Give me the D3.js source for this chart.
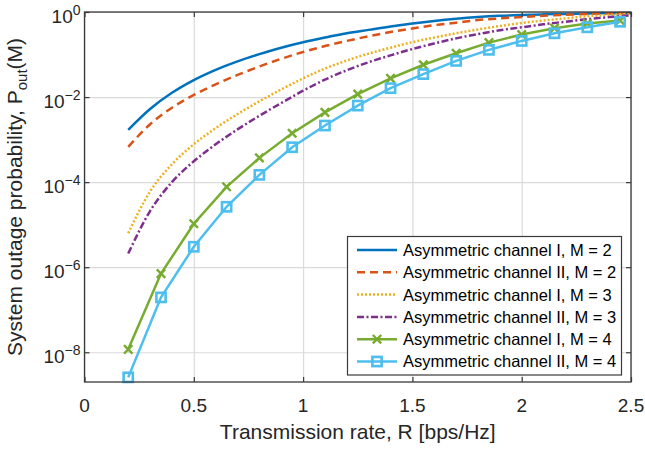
<!DOCTYPE html>
<html><head><meta charset="utf-8">
<script src="https://cdn.jsdelivr.net/npm/d3@7"></script>
<style>
body{margin:0;background:#fff;}
svg{display:block;font-family:"Liberation Sans",Arial,Helvetica,sans-serif;}
</style></head><body>
<svg id="c" width="645" height="452"></svg>
<script>
// ---------- data ----------
const rateCurve = [0.2,0.3,0.4,0.5,0.6,0.7,0.8,0.9,1.0,1.1,1.2,1.3,1.4,1.5,1.6,1.7,1.8,1.9,2.0,2.1,2.2,2.3,2.4,2.5];
const chanI_M2  = [1.70e-3,5.25e-3,1.26e-2,2.51e-2,4.37e-2,6.92e-2,0.102,0.145,0.195,0.251,0.316,0.380,0.457,0.537,0.617,0.692,0.759,0.813,0.851,0.881,0.902,0.923,0.933,0.944];
const chanII_M2 = [6.76e-4,2.29e-3,5.62e-3,1.12e-2,2.00e-2,3.31e-2,5.25e-2,7.94e-2,0.115,0.158,0.209,0.269,0.339,0.407,0.490,0.562,0.646,0.708,0.759,0.813,0.861,0.902,0.933,0.955];
const chanI_M3  = [6.31e-6,6.03e-5,2.63e-4,7.76e-4,1.86e-3,3.98e-3,7.94e-3,1.51e-2,2.75e-2,4.68e-2,7.24e-2,0.105,0.145,0.195,0.251,0.316,0.389,0.468,0.550,0.631,0.708,0.794,0.851,0.912];
const chanII_M3 = [2.09e-6,2.09e-5,1.00e-4,3.09e-4,7.76e-4,1.74e-3,3.63e-3,7.24e-3,1.41e-2,2.57e-2,4.27e-2,6.61e-2,9.55e-2,0.135,0.182,0.240,0.302,0.372,0.437,0.513,0.589,0.676,0.759,0.832];
const rateMarked = [0.2,0.35,0.5,0.65,0.8,0.95,1.1,1.25,1.4,1.55,1.7,1.85,2.0,2.15,2.3,2.45];
const chanI_M4  = [1.17e-8,7.08e-7,1.05e-5,7.76e-5,3.72e-4,1.41e-3,4.37e-3,1.17e-2,2.75e-2,5.75e-2,0.107,0.191,0.295,0.417,0.537,0.631];
const chanII_M4 = [2.57e-9,1.95e-7,3.02e-6,2.63e-5,1.48e-4,6.61e-4,2.14e-3,6.31e-3,1.62e-2,3.47e-2,7.08e-2,0.129,0.209,0.316,0.437,0.589];
const seriesNames = ["Asymmetric channel I, M = 2","Asymmetric channel II, M = 2","Asymmetric channel I, M = 3","Asymmetric channel II, M = 3","Asymmetric channel I, M = 4","Asymmetric channel II, M = 4"];
const xTicks = [0,0.5,1,1.5,2,2.5];
const xTickLabels = ["0","0.5","1","1.5","2","2.5"];
const yTicks = [1,1e-2,1e-4,1e-6,1e-8];
const yTickExp = ["0","\u22122","\u22124","\u22126","\u22128"];
const xTitle = "Transmission rate, R [bps/Hz]";

// ---------- layout ----------
const L = 84.5, T = 12, Rr = 631, B = 382;
const svg = d3.select("#c");
const x = d3.scaleLinear().domain([0,2.5]).range([L,Rr]);
const y = d3.scaleLog().domain([2e-9,1]).range([B,T]);
const ink = "#262626";

// grid
svg.append("g").attr("transform",`translate(0,${B})`)
  .call(d3.axisBottom(x).tickValues(xTicks).tickSize(-(B-T)).tickFormat(""))
  .call(g=>{g.select(".domain").remove();g.selectAll("line").attr("stroke","#dadada").attr("stroke-width",1.2);});
svg.append("g").attr("transform",`translate(${L},0)`)
  .call(d3.axisLeft(y).tickValues(yTicks).tickSize(-(Rr-L)).tickFormat(""))
  .call(g=>{g.select(".domain").remove();g.selectAll("line").attr("stroke","#dadada").attr("stroke-width",1.2);});

// series
const styles = [
  {c:"#0072BD", dash:null},
  {c:"#D95319", dash:"8,5"},
  {c:"#EDB120", dash:"2,2"},
  {c:"#7E2F8E", dash:"7,2.5,2,2.5"},
  {c:"#77AC30", dash:null, marker:"x"},
  {c:"#4DBEEE", dash:null, marker:"s"}
];
const series = [
  {xs:rateCurve, ys:chanI_M2},
  {xs:rateCurve, ys:chanII_M2},
  {xs:rateCurve, ys:chanI_M3},
  {xs:rateCurve, ys:chanII_M3},
  {xs:rateMarked, ys:chanI_M4},
  {xs:rateMarked, ys:chanII_M4}
];
const lineSmooth = d3.line().x(d=>x(d[0])).y(d=>y(d[1])).curve(d3.curveMonotoneX);
const lineStraight = d3.line().x(d=>x(d[0])).y(d=>y(d[1]));

function drawMarker(g, type, cx, cy, color){
  if(type==="x"){
    const s=4.2;
    g.append("path").attr("d",`M${cx-s},${cy-s}L${cx+s},${cy+s}M${cx-s},${cy+s}L${cx+s},${cy-s}`)
      .attr("stroke",color).attr("stroke-width",2.4).attr("fill","none");
  } else if(type==="s"){
    const s=4.6;
    g.append("rect").attr("x",cx-s).attr("y",cy-s).attr("width",2*s).attr("height",2*s)
      .attr("stroke",color).attr("stroke-width",2.6).attr("fill","none");
  }
}

series.forEach((s,i)=>{
  const st = styles[i];
  const pts = s.xs.map((v,j)=>[v,s.ys[j]]);
  const g = svg.append("g");
  g.append("path").attr("d", st.marker ? lineStraight(pts) : lineSmooth(pts))
    .attr("fill","none").attr("stroke",st.c).attr("stroke-width",2.5)
    .attr("stroke-dasharray",st.dash);
  if(st.marker) pts.forEach(p=>drawMarker(g, st.marker, x(p[0]), y(p[1]), st.c));
});

// box & ticks
svg.append("rect").attr("x",L).attr("y",T).attr("width",Rr-L).attr("height",B-T)
  .attr("fill","none").attr("stroke","#3a3a3a").attr("stroke-width",1.3);
const tickStyle = g=>{g.select(".domain").remove();g.selectAll("line").attr("stroke","#3a3a3a").attr("stroke-width",1.2);};
svg.append("g").attr("transform",`translate(0,${B})`)
  .call(d3.axisBottom(x).tickValues(xTicks).tickSize(-5).tickFormat(""))
  .call(tickStyle);
svg.append("g").attr("transform",`translate(0,${T})`)
  .call(d3.axisTop(x).tickValues(xTicks).tickSize(-5).tickFormat(""))
  .call(tickStyle);
svg.append("g").attr("transform",`translate(${L},0)`)
  .call(d3.axisLeft(y).tickValues(yTicks).tickSize(-5).tickFormat(""))
  .call(tickStyle);
svg.append("g").attr("transform",`translate(${Rr},0)`)
  .call(d3.axisRight(y).tickValues(yTicks).tickSize(-5).tickFormat(""))
  .call(tickStyle);

// x tick labels
svg.append("g").selectAll("text").data(xTicks).join("text")
  .attr("x",d=>x(d)).attr("y",B+30).attr("text-anchor","middle")
  .attr("font-size",19).attr("fill",ink).text((d,i)=>xTickLabels[i]);

// y tick labels with superscripts
const yl = svg.append("g").selectAll("text").data(yTicks).join("text")
  .attr("x",L-4).attr("y",d=>y(d)+11).attr("text-anchor","end")
  .attr("font-size",19).attr("fill",ink);
yl.append("tspan").text("10");
yl.append("tspan").attr("font-size",14).attr("dy",-8).text((d,i)=>yTickExp[i]);

// axis titles
svg.append("text").attr("x",(L+Rr)/2).attr("y",439).attr("text-anchor","middle")
  .attr("font-size",21).attr("fill",ink).text(xTitle);
const yt = svg.append("text").attr("transform",`translate(22,${(T+B)/2}) rotate(-90)`)
  .attr("text-anchor","middle").attr("font-size",21).attr("fill",ink);
yt.append("tspan").text("System outage probability, P");
yt.append("tspan").attr("font-size",15).attr("dy",5).text("out");
yt.append("tspan").attr("dy",-5).text("(M)");

// legend
const lg = svg.append("g");
lg.append("rect").attr("x",347.5).attr("y",236.5).attr("width",274).attr("height",138.5)
  .attr("fill","#fff").attr("stroke","#3a3a3a").attr("stroke-width",1.2);
seriesNames.forEach((name,i)=>{
  const st = styles[i];
  const cy = 250 + i*22.3;
  lg.append("line").attr("x1",357).attr("x2",397).attr("y1",cy).attr("y2",cy)
    .attr("stroke",st.c).attr("stroke-width",2.5).attr("stroke-dasharray",st.dash);
  if(st.marker) drawMarker(lg, st.marker, 377, cy, st.c);
  lg.append("text").attr("x",403).attr("y",cy).attr("dy","0.36em")
    .attr("font-size",16.5).attr("fill","#000").text(name);
});
</script>
</body></html>
